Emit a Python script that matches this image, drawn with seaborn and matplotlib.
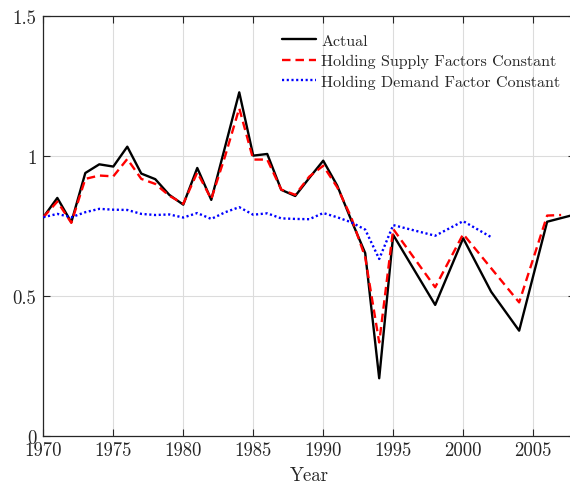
import numpy as np
import pandas as pd
import matplotlib
matplotlib.use("Agg")
import matplotlib.pyplot as plt
import seaborn as sns

# Actual series
actual_years = [1970, 1971, 1972, 1973, 1974, 1975, 1976, 1977, 1978, 1979,
                1980, 1981, 1982, 1983, 1984, 1985, 1986, 1987, 1988, 1989,
                1990, 1991, 1992, 1993, 1994, 1995, 1998, 2000, 2002, 2004,
                2006, 2007, 2008]
actual_vals = [0.780, 0.849, 0.762, 0.938, 0.969, 0.961, 1.032, 0.936, 0.916, 0.860,
               0.825, 0.956, 0.842, 1.034, 1.226, 1.000, 1.006, 0.878, 0.856, 0.920,
               0.982, 0.893, 0.770, 0.652, 0.205, 0.717, 0.467, 0.705, 0.514, 0.375,
               0.764, 0.777, 0.790]

# Holding supply factors constant
supply_years = [1970, 1971, 1972, 1973, 1974, 1975, 1976, 1977, 1978, 1979,
                1980, 1981, 1982, 1983, 1984, 1985, 1986, 1987, 1988, 1989,
                1990, 1991, 1992, 1993, 1994, 1995, 1998, 2000, 2002, 2004,
                2006, 2007]
supply_vals = [0.780, 0.836, 0.760, 0.917, 0.929, 0.926, 0.988, 0.917, 0.899, 0.857,
               0.828, 0.940, 0.845, 1.000, 1.169, 0.986, 0.986, 0.879, 0.860, 0.925,
               0.964, 0.887, 0.780, 0.637, 0.333, 0.738, 0.530, 0.720, 0.598, 0.476,
               0.786, 0.788]

# Holding demand factor constant
demand_years = [1970, 1971, 1972, 1973, 1974, 1975, 1976, 1977, 1978, 1979,
                1980, 1981, 1982, 1983, 1984, 1985, 1986, 1987, 1988, 1989,
                1990, 1991, 1992, 1993, 1994, 1995, 1998, 2000, 2002]
demand_vals = [0.780, 0.792, 0.780, 0.798, 0.810, 0.807, 0.806, 0.792, 0.788, 0.790,
               0.779, 0.795, 0.774, 0.798, 0.816, 0.789, 0.794, 0.776, 0.774, 0.773,
               0.795, 0.780, 0.762, 0.736, 0.631, 0.752, 0.714, 0.766, 0.709]

labels = ["Actual", "Holding Supply Factors Constant", "Holding Demand Factor Constant"]
y_ticks = [0, 0.5, 1, 1.5]
y_tick_labels = ["0", "0.5", "1", "1.5"]
x_ticks = [1970, 1975, 1980, 1985, 1990, 1995, 2000, 2005]

sns.set_theme(style="ticks")
plt.rcParams["font.family"] = ["cmr10", "DejaVu Serif"]
plt.rcParams["mathtext.fontset"] = "cm"
plt.rcParams["axes.formatter.use_mathtext"] = True
plt.rcParams["axes.unicode_minus"] = False

fig = plt.figure(figsize=(5.70, 4.89), dpi=100)
ax = fig.add_axes([0.076, 0.107, 0.933, 0.859])

df_a = pd.DataFrame({"Year": actual_years, "v": actual_vals})
df_s = pd.DataFrame({"Year": supply_years, "v": supply_vals})
df_d = pd.DataFrame({"Year": demand_years, "v": demand_vals})

sns.lineplot(data=df_a, x="Year", y="v", ax=ax, color="black", lw=1.7,
             label=labels[0], zorder=3)
sns.lineplot(data=df_s, x="Year", y="v", ax=ax, color="red", lw=1.7,
             label=labels[1], zorder=4)
sns.lineplot(data=df_d, x="Year", y="v", ax=ax, color="blue", lw=1.7,
             label=labels[2], zorder=5)
ax.lines[1].set_dashes((3.6, 2.1))
ax.lines[2].set_dashes((0.9, 1.1))

ax.set_xlim(1970, 2008)
ax.set_ylim(0, 1.5)
ax.set_xticks(x_ticks)
ax.set_xticklabels([str(t) for t in x_ticks])
ax.set_yticks(y_ticks)
ax.set_yticklabels(y_tick_labels)
ax.set_xlabel("Year", fontsize=13.5, labelpad=5)
ax.set_ylabel("")

ax.grid(True, color="#dcdcdc", lw=0.8)
ax.set_axisbelow(True)
for side in ["top", "bottom", "left", "right"]:
    ax.spines[side].set_visible(True)
    ax.spines[side].set_color("#262626")
    ax.spines[side].set_linewidth(0.9)
ax.tick_params(direction="in", top=True, right=True, length=5, width=0.8,
               labelsize=13.5, color="#262626", labelcolor="#262626")
ax.tick_params(axis="y", pad=5)
ax.tick_params(axis="x", pad=4)

leg = ax.legend(loc="upper left", bbox_to_anchor=(0.495, 0.9295),
                bbox_transform=fig.transFigure, frameon=False, fontsize=11.5,
                handlelength=2.1, handletextpad=0.35, labelspacing=0.4,
                borderaxespad=0, borderpad=0)

fig.savefig("out.png", dpi=100)
